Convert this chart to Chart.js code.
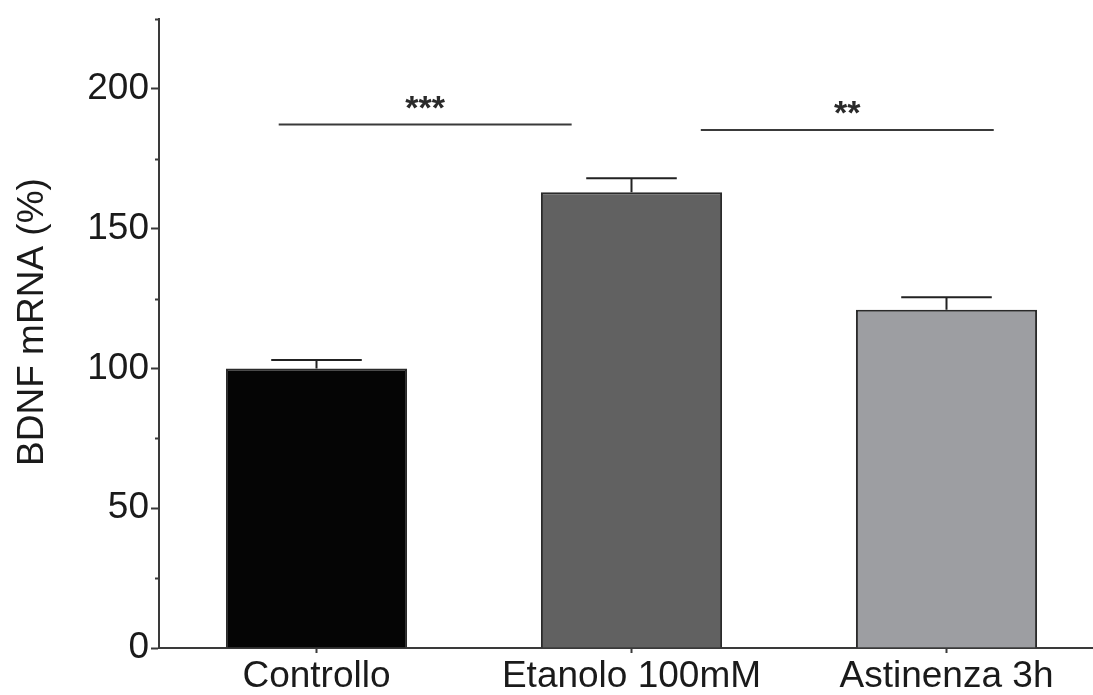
<!DOCTYPE html>
<html>
<head>
<meta charset="utf-8">
<script src="https://cdn.jsdelivr.net/npm/chart.js@4"></script>
<style>
  html, body { margin: 0; padding: 0; background: #fff; overflow: hidden; }
  #wrap { width: 1120px; height: 695px; }
</style>
</head>
<body>
<div id="wrap"><canvas id="bdnf-chart" width="1120" height="695"></canvas></div>
<script>
const groups = ["Controllo", "Etanolo 100mM", "Astinenza 3h"];
const means = [100, 163, 121];
const errors = [3, 5, 4.5];
const barColors = ["#050505", "#616161", "#9d9ea2"];

// significance brackets: from / to in category units, line height, star baseline
const sigFrom = [-0.12, 1.22];
const sigTo = [0.81, 2.15];
const sigY = [187.3, 185.3];
const sigStarY = [189.3, 187.6];
const sigText = ["***", "**"];

const yTicks = { min: 0, max: 225, step: 25 };
const yTitle = "BDNF mRNA (%)";

const ink = "#3a3a3a";
const font = "'Liberation Sans', Arial, sans-serif";

const extras = {
	id: "extras",
	afterDatasetsDraw(chart) {
		const ctx = chart.ctx;
		const x = chart.scales.x;
		const y = chart.scales.y;
		const meta = chart.getDatasetMeta(0);
		ctx.save();
		ctx.strokeStyle = "#222";
		ctx.lineWidth = 2;
		// error bars (upper only)
		meta.data.forEach((bar, i) => {
			const top = y.getPixelForValue(means[i]);
			const end = y.getPixelForValue(means[i] + errors[i]);
			const half = bar.width * 0.25;
			ctx.beginPath();
			ctx.moveTo(bar.x, top);
			ctx.lineTo(bar.x, end);
			ctx.moveTo(bar.x - half, end);
			ctx.lineTo(bar.x + half, end);
			ctx.stroke();
		});
		// minor y ticks
		ctx.strokeStyle = ink;
		y.ticks.forEach(t => {
			if (t.value % 50 !== 0) {
				const py = Math.round(y.getPixelForValue(t.value)) + 0.5;
				ctx.beginPath();
				ctx.moveTo(y.right - 4, py);
				ctx.lineTo(y.right, py);
				ctx.stroke();
			}
		});
		// significance lines
		ctx.fillStyle = "#2a2a2a";
		ctx.font = "bold 34px " + font;
		ctx.textAlign = "center";
		ctx.textBaseline = "alphabetic";
		sigY.forEach((v, i) => {
			const x0 = x.getPixelForValue(sigFrom[i]);
			const x1 = x.getPixelForValue(sigTo[i]);
			const py = y.getPixelForValue(v);
			ctx.beginPath();
			ctx.moveTo(x0, py);
			ctx.lineTo(x1, py);
			ctx.stroke();
			ctx.fillText(sigText[i], (x0 + x1) / 2, y.getPixelForValue(sigStarY[i]));
		});
		// y axis title
		ctx.fillStyle = "#1a1a1a";
		ctx.font = "37px " + font;
		ctx.translate(43, 322);
		ctx.rotate(-Math.PI / 2);
		ctx.fillText(yTitle, 0, 0);
		ctx.restore();
	}
};

new Chart(document.getElementById("bdnf-chart"), {
	type: "bar",
	data: {
		labels: groups,
		datasets: [
			{
				data: means,
				backgroundColor: barColors,
				borderColor: "#2a2a2a",
				borderWidth: 2,
				barPercentage: 0.575,
				categoryPercentage: 1
			}
		]
	},
	options: {
		responsive: false,
		animation: false,
		layout: { padding: { top: 19, right: 16, left: 0, bottom: 0 } },
		scales: {
			x: {
				afterFit: scale => { scale.height = 47; },
				grid: {
					drawOnChartArea: false,
					offset: false,
					tickLength: 5,
					tickColor: ink,
					tickWidth: 2
				},
				border: { color: ink, width: 2 },
				ticks: {
					color: "#1a1a1a",
					padding: 2,
					font: { family: font, size: 37 }
				}
			},
			y: {
				min: yTicks.min,
				max: yTicks.max,
				afterFit: scale => {
					scale.width = 159;
					scale.paddingTop = 0;
					scale.paddingBottom = 0;
				},
				grid: {
					drawOnChartArea: false,
					tickLength: 8,
					tickWidth: 2,
					tickColor: c => (c.tick && c.tick.value % 50 === 0 ? ink : "rgba(0,0,0,0)")
				},
				border: { color: ink, width: 2 },
				ticks: {
					stepSize: yTicks.step,
					color: "#1a1a1a",
					padding: 2,
					font: { family: font, size: 37 },
					callback: v => (v % 50 === 0 ? v : "")
				}
			}
		},
		plugins: {
			legend: { display: false },
			tooltip: { enabled: false }
		}
	},
	plugins: [extras]
});
</script>
</body>
</html>
